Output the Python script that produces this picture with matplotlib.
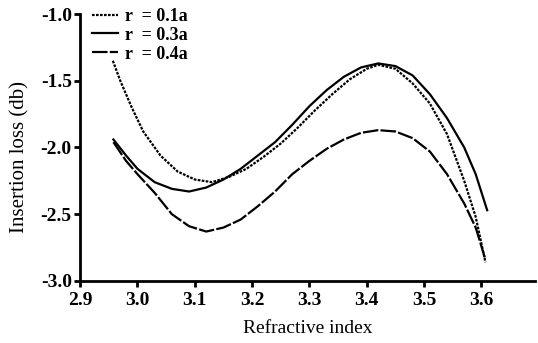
import matplotlib
matplotlib.use("Agg")
import matplotlib.pyplot as plt

# data
x_01 = [2.957, 2.97, 2.99, 3.01, 3.04, 3.07, 3.10, 3.13, 3.16, 3.19, 3.22, 3.25,
        3.28, 3.31, 3.34, 3.37, 3.40, 3.42, 3.45, 3.48, 3.51, 3.54, 3.57, 3.59, 3.607]
y_01 = [-1.35, -1.50, -1.70, -1.88, -2.06, -2.18, -2.24, -2.26, -2.22, -2.16, -2.07, -1.97,
        -1.85, -1.72, -1.60, -1.49, -1.41, -1.38, -1.41, -1.52, -1.67, -1.90, -2.25, -2.52, -2.86]

x_03 = [2.958, 2.98, 3.00, 3.03, 3.06, 3.09, 3.12, 3.15, 3.18, 3.21, 3.24, 3.27,
        3.30, 3.33, 3.36, 3.39, 3.42, 3.45, 3.48, 3.51, 3.54, 3.57, 3.59, 3.61]
y_03 = [-1.94, -2.06, -2.16, -2.26, -2.31, -2.33, -2.30, -2.24, -2.16, -2.06, -1.96, -1.83,
        -1.69, -1.57, -1.47, -1.40, -1.37, -1.39, -1.46, -1.60, -1.78, -2.00, -2.20, -2.47]

x_04 = [2.958, 2.98, 3.00, 3.03, 3.06, 3.09, 3.12, 3.15, 3.18, 3.21, 3.24, 3.27,
        3.30, 3.33, 3.36, 3.39, 3.42, 3.45, 3.48, 3.51, 3.54, 3.57, 3.59, 3.607]
y_04 = [-1.96, -2.10, -2.20, -2.34, -2.50, -2.59, -2.63, -2.60, -2.54, -2.44, -2.33, -2.20,
        -2.10, -2.01, -1.94, -1.89, -1.87, -1.88, -1.93, -2.03, -2.20, -2.42, -2.60, -2.84]

xticks = [2.9, 3.0, 3.1, 3.2, 3.3, 3.4, 3.5, 3.6]
yticks = [-3.0, -2.5, -2.0, -1.5, -1.0]

plt.rcParams['font.family'] = ['Liberation Serif', 'DejaVu Serif']

fig = plt.figure(figsize=(5.38, 3.43), dpi=100)
ax = fig.add_axes([0.149, 0.181, 0.846, 0.778])

ax.plot(x_01, y_01, color='black', lw=1.6, linestyle=(0, (1.2, 0.6)), label='r  = 0.1a')
ax.plot(x_03, y_03, color='black', lw=1.6, linestyle='-', label='r  = 0.3a')
ax.plot(x_04, y_04, color='black', lw=1.6, linestyle=(0, (7, 1)), label='r  = 0.4a')

ax.set_xlim(2.9, 3.694)
ax.set_ylim(-3.0, -1.0)
ax.set_xticks(xticks)
ax.set_yticks(yticks)
ax.set_xticklabels([f"{v:.1f}" for v in xticks], fontweight='bold', fontsize=14)
ax.set_yticklabels([f"{v:.1f}" for v in yticks], fontweight='bold', fontsize=14)

for s in ['top', 'right']:
    ax.spines[s].set_visible(False)
for s in ['left', 'bottom']:
    ax.spines[s].set_linewidth(2)
ax.tick_params(direction='out', length=4, width=2)
ax.tick_params(axis='x', pad=4)
ax.tick_params(axis='y', pad=2)

ax.set_xlabel("Refractive index", fontsize=14)
ax.set_ylabel("Insertion loss (db)", fontsize=15)
ax.xaxis.set_label_coords(0.5, -0.145)
ax.yaxis.set_label_coords(-0.112, 0.465)

leg = ax.legend(loc='upper left', frameon=False, prop={'weight': 'bold', 'size': 13},
                handlelength=1.45, handletextpad=0.4, labelspacing=0.1,
                bbox_to_anchor=(0.01, 1.05), borderaxespad=0.0)

fig.savefig("out.png", dpi=100)
